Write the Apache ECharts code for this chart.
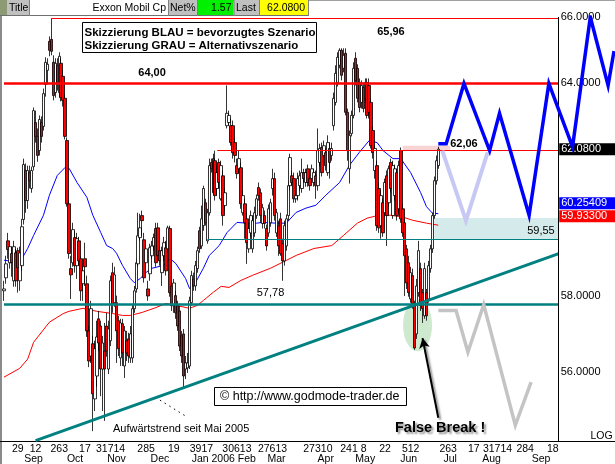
<!DOCTYPE html>
<html><head><meta charset="utf-8">
<script src="https://cdn.jsdelivr.net/npm/echarts/dist/echarts.min.js"></script>
<style>html,body{margin:0;padding:0;background:#fff}#c{width:615px;height:464px}</style>
</head><body><div id="c"></div>
<script>
// ---------- DATA ----------
const opens = [58.14,58.49,59.50,58.90,59.15,58.41,59.17,59.23,58.41,58.82,
60.09,61.47,60.62,61.41,60.96,61.58,62.85,62.45,62.04,62.85,
62.74,63.97,64.39,65.26,65.32,64.63,63.73,64.54,63.73,64.60,
64.21,63.56,62.33,60.53,58.74,58.90,59.59,58.82,59.50,59.01,
58.33,59.01,58.33,57.07,56.41,56.73,55.30,55.89,57.39,57.20,
56.07,56.54,57.20,56.07,56.81,58.63,57.82,57.82,57.34,56.36,
57.26,56.15,56.81,56.86,56.36,56.36,57.66,58.19,58.87,59.59,
60.20,59.53,58.90,58.19,58.60,59.09,59.36,59.84,59.86,59.23,
58.63,59.09,59.31,59.28,59.84,58.27,57.74,58.01,57.74,57.60,
56.94,56.99,56.07,56.10,56.15,57.82,58.46,58.27,58.74,59.78,
59.36,59.92,60.56,59.50,60.28,61.70,61.81,61.75,60.96,61.70,
60.67,61.32,60.48,62.76,62.85,62.76,62.76,62.27,61.61,61.52,
61.55,60.28,60.53,60.11,59.28,59.72,59.28,59.72,60.20,60.99,
60.84,59.98,60.20,59.84,59.72,60.00,60.96,61.24,59.72,59.92,
60.11,59.42,58.95,59.36,60.20,61.04,61.32,61.24,60.67,60.76,
61.04,60.96,61.41,61.13,61.52,61.24,61.24,61.13,61.32,61.04,
61.70,62.13,61.90,61.98,61.41,62.10,61.90,62.76,63.44,64.03,
64.54,64.99,64.45,64.90,63.15,61.52,62.53,63.06,64.75,64.45,
64.03,63.44,63.88,63.56,64.03,63.94,63.44,62.62,61.47,61.61,
60.96,59.92,60.56,60.28,61.32,60.56,61.70,60.20,60.76,61.41,
60.39,62.04,60.39,60.00,59.28,58.90,57.92,58.55,57.74,56.99,
58.09,58.74,58.09,57.47,58.09,57.92,58.74,59.28,60.20,61.18,
61.61];
const closes = [58.19,58.87,59.26,59.34,58.90,59.34,58.41,58.76,59.17,59.89,
61.64,60.62,61.47,61.18,61.47,63.20,62.45,61.90,62.94,62.45,
63.70,64.63,64.57,64.99,64.96,63.64,64.60,64.03,64.81,63.58,
63.50,62.45,60.53,59.15,58.57,59.81,58.82,59.56,58.95,58.14,
58.68,58.79,57.07,56.28,57.66,55.43,56.60,56.91,56.75,56.07,
56.75,56.07,56.54,57.12,58.41,57.79,58.57,57.07,56.60,57.28,
56.49,57.07,56.49,56.41,56.99,57.66,58.14,58.90,59.64,59.86,
60.06,58.49,59.28,58.00,59.31,59.36,59.59,58.90,59.09,58.95,
59.23,59.45,58.68,59.86,58.09,57.74,58.35,57.55,57.20,56.67,
56.41,55.89,56.23,56.23,57.87,58.55,58.27,58.82,59.23,59.28,
60.11,60.96,60.00,60.28,61.61,61.52,60.84,60.76,61.41,61.13,
61.61,60.20,60.84,63.12,63.06,62.27,61.98,61.90,61.38,61.81,
60.53,60.76,60.00,59.45,59.84,60.20,60.06,60.28,60.67,60.76,
60.20,60.42,59.98,59.36,60.39,60.56,61.24,60.20,60.28,59.36,
59.15,58.95,59.92,60.11,61.04,61.84,61.13,60.67,60.76,61.24,
61.32,61.41,61.24,61.41,61.13,61.04,61.52,61.41,61.04,62.04,
62.10,61.41,62.18,61.61,62.27,61.70,62.10,63.56,64.30,64.78,
64.99,64.24,64.84,63.15,62.04,62.48,63.06,64.45,64.09,63.56,
63.29,63.94,63.26,64.03,63.06,63.15,62.18,61.98,62.10,59.92,
59.86,60.76,59.72,61.13,60.20,61.52,60.96,61.61,61.52,60.20,
61.61,60.11,59.72,59.09,58.35,58.09,58.63,57.79,56.62,58.27,
59.23,57.74,57.66,58.74,57.47,58.82,59.28,60.20,61.18,61.75,
62.08];
const lows = [57.87,58.33,59.01,58.74,58.52,58.25,58.25,58.09,58.14,58.68,
59.95,60.28,60.39,60.96,60.84,61.47,62.27,61.72,61.90,62.27,
62.62,63.61,63.97,64.81,64.84,63.50,63.58,63.79,63.61,63.47,
63.32,62.36,60.45,59.01,57.92,58.79,58.63,58.46,58.82,57.87,
57.87,58.27,56.91,56.12,56.23,54.48,54.99,55.61,56.54,55.37,
54.99,54.74,56.39,55.94,56.67,57.55,57.71,56.23,56.41,56.15,
56.15,55.84,56.28,56.23,56.23,56.23,57.55,58.09,58.79,59.50,
59.64,58.36,58.68,57.87,58.41,59.01,59.23,58.79,59.01,58.82,
58.27,58.95,58.55,59.17,57.98,57.60,57.55,57.39,57.07,56.54,
56.23,55.58,55.81,55.97,56.07,57.74,58.14,58.14,58.63,59.17,
59.28,59.78,59.92,59.42,60.20,61.41,60.76,60.62,60.76,60.96,
60.62,59.92,60.34,62.68,62.76,62.18,61.81,61.70,61.24,61.41,
60.39,60.20,59.56,58.87,59.17,59.61,59.17,59.61,60.11,60.62,
60.00,59.84,59.84,59.23,59.61,59.89,60.76,60.06,59.61,59.09,
59.09,58.41,58.82,59.23,60.06,60.90,61.04,60.56,60.56,60.62,
60.90,60.84,61.13,61.01,61.01,60.90,61.13,61.01,60.67,60.90,
61.58,61.30,61.81,61.47,61.32,61.24,61.75,62.62,63.35,63.91,
64.45,64.09,64.33,63.06,61.75,61.10,62.45,62.97,63.94,63.44,
63.15,63.26,63.15,63.44,62.97,62.97,62.10,61.81,61.24,59.78,
59.72,59.56,59.61,60.17,59.36,60.45,60.84,60.11,60.62,60.06,
60.28,60.00,59.61,58.00,58.19,57.98,57.82,57.66,56.57,56.86,
57.98,57.60,57.28,57.39,57.34,57.82,58.63,59.17,60.11,61.07,
61.52];
const highs = [58.41,59.09,59.72,59.50,59.34,59.50,59.28,59.31,59.34,60.11,
61.81,61.67,61.61,61.61,61.58,63.29,63.20,62.68,63.06,63.03,
63.85,64.78,64.75,65.41,65.96,64.84,64.75,64.75,64.93,64.75,
64.39,63.67,62.42,60.62,59.09,60.00,59.78,59.72,59.61,59.09,
58.82,59.45,58.55,57.20,57.87,56.94,56.81,57.34,57.60,57.34,
56.94,57.28,57.55,57.34,58.55,58.90,58.79,58.01,57.47,57.39,
57.39,57.20,57.07,57.02,57.20,57.79,58.27,59.01,60.28,60.25,
60.34,59.72,59.39,58.41,59.42,59.50,59.70,60.00,60.00,59.36,
59.34,59.61,59.50,59.92,59.92,58.41,58.46,58.14,57.87,57.74,
57.07,57.12,56.41,56.49,57.98,58.68,58.63,58.95,59.34,59.89,
60.48,61.04,60.67,60.39,61.81,61.81,61.95,62.04,61.61,61.81,
61.75,61.47,60.96,63.94,63.20,62.97,62.91,62.39,61.81,62.04,
61.70,60.90,60.67,60.28,60.00,60.34,60.20,60.45,60.79,61.13,
60.96,60.53,60.34,59.95,60.51,60.67,61.52,61.41,60.39,60.06,
60.28,59.56,60.06,60.23,61.18,61.95,61.47,61.41,60.90,61.41,
61.47,61.81,61.52,61.52,61.64,61.35,61.64,61.52,61.47,62.68,
62.24,62.27,62.33,62.10,62.48,62.27,62.27,63.73,64.54,64.93,
65.05,65.05,65.05,65.05,63.26,62.62,63.20,64.63,64.93,64.57,
64.15,64.09,64.03,64.15,64.15,64.15,63.56,62.74,62.21,61.75,
61.13,60.90,60.67,61.24,61.47,61.61,61.81,61.75,61.64,61.52,
61.75,62.13,60.51,60.11,59.39,59.09,58.79,58.74,57.87,58.46,
59.50,58.90,58.19,58.90,58.19,58.95,59.39,60.28,61.30,61.90,
62.15];

// moving averages, read as [bar index, value]
const maBlue = [[0,58.97],[8,58.91],[12,59.29],[15,59.65],[20,60.21],[23,60.77],[27,61.33],[31,61.56],[33,61.53],[37,61.13],[42,60.71],[45,60.21],[49,59.73],[52,59.37],[55,59.29],[57,59.16],[60,58.83],[64,58.47],[66,58.36],[69,58.47],[72,58.64],[75,58.75],[81,58.83],[84,59.02],[87,58.88],[92,58.47],[94,58.20],[97,58.36],[101,58.75],[104,59.10],[109,59.37],[113,59.73],[118,60.01],[123,59.99],[128,59.99],[131,60.01],[138,59.99],[143,59.99],[148,60.29],[153,60.41],[158,60.49],[163,60.77],[170,61.13],[175,61.62],[180,61.99],[185,62.33],[189,62.27],[192,62.04],[197,61.81],[201,61.81],[206,61.41],[211,60.85],[214,60.45],[217,60.27],[220,60.25409]];
const maRed = [[0,55.86],[8,56.09],[12,56.33],[15,56.77],[23,57.30],[30,57.53],[33,57.59],[40,57.67],[47,57.59],[55,57.53],[60,57.48],[64,57.48],[70,57.56],[77,57.69],[82,57.80],[87,57.75],[94,57.67],[98,57.75],[101,57.88],[106,58.10],[110,58.26],[114,58.23],[120,58.42],[126,58.56],[135,58.75],[141,58.91],[148,59.10],[157,59.29],[166,59.37],[172,59.65],[179,59.99],[184,60.13],[190,60.21],[196,60.21],[202,60.16],[207,60.07],[214,59.99],[220,59.933]];

// sketched scenarios [bar index, price]
const scenBlue = [[220,62.24],[224,62.24],[233,64.0],[246,62.04],[251,63.12],[266,60.21],[276,64.0],[288,62.15],[297,66.0],[306,63.94],[309,64.97]];
const scenLight = [[222,62.04],[234,60.06],[245,61.99]];
const scenGray = [[220,57.61],[229,57.61],[235,56.51],[243,57.77],[259,54.63],[267,55.73]];

// levels
const levelHigh = 65.96, level64 = 64.00, level6206 = 62.06, level5955 = 59.55, level5778 = 57.78;
const trendFrom = [16, 54.24], trendTo = [281, 59.15];

// axis tick labels
const dayTickIdx = [7,16,28,41,54,72,86,100,118,136,159,177,193,206,225,238,250,264,278];
const dayTickText = ['29','12','263','17','31714','285','19','3917','30613','27613','27310','241 8','22','512','263','17','31714','284','18'];
const monthTickIdx = [15,36,57,79,106,123,138,163,183,205,226,247,272];
const monthTickText = ['Sep','Oct','Nov','Dec','Jan 2006','Feb','Mar','Apr','May','Jun','Jul','Aug','Sep'];
const priceTicks = [66, 64, 58, 56];
const lastPrice = 62.08, maBlueLast = 60.25409, maRedLast = 59.933;

// ---------- CHART ----------
const FONT = '"Liberation Sans", Arial, sans-serif';
const NCAT = 310, AXISCAT = 281;
const cats = Array.from({length: NCAT}, (_, i) => String(i));
const candle = opens.map((o, i) => [o, closes[i], lows[i], highs[i]]);
const dayMap = {}; dayTickIdx.forEach((k, j) => dayMap[k] = dayTickText[j]);
const monMap = {}; monthTickIdx.forEach((k, j) => monMap[k] = monthTickText[j]);

function txt(coord, text, lab) {
  return {coord: coord, value: text, symbol: 'rect', symbolSize: 1,
    itemStyle: {color: 'rgba(0,0,0,0)'},
    label: Object.assign({show: true, formatter: text, position: 'inside', color: '#000',
      fontSize: 11, fontFamily: FONT}, lab || {})};
}
function seg(a, b, style, extra) {
  return [Object.assign({coord: a, lineStyle: style}, extra && extra[0] || {}), Object.assign({coord: b}, extra && extra[1] || {})];
}
const RED = '#ff0000', TEAL = '#008080';

const chart = echarts.init(document.getElementById('c'), null, {renderer: 'canvas'});
const option = {
  animation: false,
  backgroundColor: '#ffffff',
  textStyle: {fontFamily: FONT},
  grid: {left: 3, right: 0, top: 17, bottom: 22.5, containLabel: false, outerBoundsMode: 'none'},
  xAxis: [
    {type: 'category', data: cats, boundaryGap: true, show: false},
    {type: 'category', data: cats, boundaryGap: true, position: 'bottom',
      axisLine: {show: true, onZero: false, lineStyle: {color: '#000', width: 1}},
      axisTick: {show: false}, splitLine: {show: false},
      axisLabel: {interval: 0, margin: 2, fontSize: 10.5, color: '#000', fontFamily: FONT,
        formatter: (v, i) => dayMap[i] || ''}},
    {type: 'category', data: cats, boundaryGap: true, position: 'bottom',
      axisLine: {show: false, onZero: false}, axisTick: {show: false}, splitLine: {show: false},
      axisLabel: {interval: 0, margin: 12, fontSize: 10.5, color: '#000', fontFamily: FONT,
        formatter: (v, i) => monMap[i] || ''}}
  ],
  yAxis: [{type: 'log', logBase: 10, min: 54.22, max: 66.0, show: false, splitLine: {show: false}}],
  series: [
    { // background shapes
      type: 'line', data: [], z: 0, silent: true,
      markArea: {silent: true, z: 0, data: [
        [{coord: [202, 62.18], itemStyle: {color: '#f9d4d4'}}, {coord: [226, 62.04]}],
        [{coord: [218, 60.13], itemStyle: {color: '#d5ebeb'}}, {coord: [AXISCAT, level5955]}]
      ]},
      markPoint: {silent: true, z: 0, data: [
        {coord: [210, 57.22], symbol: 'circle', symbolSize: [29, 52], symbolOffset: [-1, 0],
          itemStyle: {color: '#cfe9cf'}, label: {show: false}}
      ]}
    },
    {
      type: 'line', data: maBlue, z: 1, showSymbol: false, silent: true,
      lineStyle: {color: '#0000ff', width: 1}
    },
    {
      type: 'line', data: maRed, z: 1, showSymbol: false, silent: true,
      lineStyle: {color: '#ff0000', width: 1}
    },
    {
      type: 'candlestick', data: candle, z: 2, barWidth: 3, silent: true,
      itemStyle: {color: '#ffffff', color0: '#ff0000', borderColor: '#000000', borderColor0: '#000000', borderWidth: 0.8}
    },
    { // levels, trend, labels
      type: 'line', data: [], z: 4, silent: true,
      markLine: {silent: true, symbol: ['none', 'none'], label: {show: false},
        data: [
          seg([24, levelHigh], [AXISCAT, levelHigh], {color: RED, width: 1, type: 'solid'}),
          seg([0, level64], [AXISCAT, level64], {color: RED, width: 2.5, type: 'solid'}),
          seg([108, level6206], [AXISCAT, level6206], {color: RED, width: 1, type: 'solid'}),
          seg([103, level5955], [AXISCAT, level5955], {color: TEAL, width: 1.2, type: 'solid'}),
          seg([0, level5778], [AXISCAT, level5778], {color: TEAL, width: 2.5, type: 'solid'}),
          seg(trendFrom, trendTo, {color: TEAL, width: 3, type: 'solid'}),
          {xAxis: AXISCAT, lineStyle: {color: '#000', width: 1, type: 'solid'}},
          seg([79, 55.27], [93, 54.83], {color: '#000', width: 1, type: [1.5, 4]}),
          seg([220, 54.82], [212, 56.88], {color: '#000', width: 2, type: 'solid',
              shadowColor: 'rgba(0,0,0,0.45)', shadowBlur: 2, shadowOffsetX: 2, shadowOffsetY: 2},
            [{symbol: 'none'}, {symbol: 'arrow', symbolSize: [8, 10]}])
        ]},
      markPoint: {silent: true, data: [
        txt([75, 64.31], '64,00', {fontWeight: 'bold'}),
        txt([196, 65.54], '65,96', {fontWeight: 'bold'}),
        txt([233, 62.24], '62,06', {fontWeight: 'bold'}),
        txt([272, 59.77], '59,55', {}),
        txt([135, 58.09], '57,78', {}),
      ].concat(priceTicks.map(p => txt([AXISCAT, p], p.toFixed(4), {position: 'right', distance: 1.5}))).concat([
        txt([AXISCAT, lastPrice], lastPrice.toFixed(4), {position: 'right', distance: 0, color: '#fff',
          backgroundColor: '#000', padding: [1, 2, 0, 2], width: 52}),
        txt([AXISCAT, maBlueLast], maBlueLast.toFixed(5), {position: 'right', distance: 0, color: '#fff',
          backgroundColor: '#0000ff', padding: [1, 2, 0, 2], width: 52, offset: [0, -10.4]}),
        txt([AXISCAT, maRedLast], maRedLast.toFixed(5), {position: 'right', distance: 0, color: '#fff',
          backgroundColor: '#ff0000', padding: [1, 2, 0, 2], width: 52, offset: [0, -9]})
      ])}
    },
    {
      type: 'line', data: scenLight, z: 5, showSymbol: false, silent: true,
      lineStyle: {color: '#c8c8f4', width: 4, join: 'miter'}
    },
    {
      type: 'line', data: scenGray, z: 5, showSymbol: false, silent: true,
      lineStyle: {color: '#c4c4c4', width: 3.5, join: 'miter'}
    },
    {
      type: 'line', data: scenBlue, z: 6, showSymbol: false, silent: true,
      lineStyle: {color: '#0000ff', width: 3.5, join: 'miter'}
    }
  ],
  graphic: [
    {type: 'rect', z: 100, shape: {x: 0, y: 0, width: 615, height: 1}, style: {fill: '#a0a0a0'}},
    {type: 'rect', z: 100, shape: {x: 0, y: 16, width: 2, height: 448}, style: {fill: '#8a8a8a'}},
    {type: 'rect', z: 100, shape: {x: 0, y: 441, width: 3, height: 1}, style: {fill: '#000'}},
    {type: 'rect', z: 100, shape: {x: 0, y: 0, width: 7, height: 16}, style: {fill: '#8c9b73'}},
    {type: 'rect', z: 100, shape: {x: 7, y: 0, width: 22, height: 16}, style: {fill: '#c0c0c0'}},
    {type: 'rect', z: 100, shape: {x: 29, y: 0, width: 139, height: 16}, style: {fill: '#ffffff'}},
    {type: 'rect', z: 100, shape: {x: 168, y: 0, width: 29, height: 16}, style: {fill: '#c0c0c0'}},
    {type: 'rect', z: 100, shape: {x: 197, y: 0, width: 36.5, height: 16}, style: {fill: '#00f000'}},
    {type: 'rect', z: 100, shape: {x: 234, y: 0, width: 25, height: 16}, style: {fill: '#c0c0c0'}},
    {type: 'rect', z: 100, shape: {x: 259, y: 0, width: 49, height: 16}, style: {fill: '#ffff00'}},
    {type: 'rect', z: 101, shape: {x: 0, y: 15, width: 308, height: 1}, style: {fill: '#707070'}},
    {type: 'rect', z: 101, shape: {x: 29, y: 0, width: 1, height: 16}, style: {fill: '#808080'}},
    {type: 'rect', z: 101, shape: {x: 168, y: 0, width: 1, height: 16}, style: {fill: '#808080'}},
    {type: 'rect', z: 101, shape: {x: 197, y: 0, width: 1, height: 16}, style: {fill: '#808080'}},
    {type: 'rect', z: 101, shape: {x: 233.5, y: 0, width: 1, height: 16}, style: {fill: '#808080'}},
    {type: 'rect', z: 101, shape: {x: 259, y: 0, width: 1, height: 16}, style: {fill: '#808080'}},
    {type: 'rect', z: 101, shape: {x: 308, y: 0, width: 1, height: 16}, style: {fill: '#808080'}},
    {type: 'text', z: 102, style: {text: 'Title', x: 9, y: 8.5, fill: '#000', font: '10.5px ' + FONT, textAlign: 'left', textVerticalAlign: 'middle', align: 'left', verticalAlign: 'middle'}},
    {type: 'text', z: 102, style: {text: 'Exxon Mobil Cp', x: 166, y: 8.5, fill: '#000', font: '10.5px ' + FONT, textAlign: 'right', textVerticalAlign: 'middle', align: 'right', verticalAlign: 'middle'}},
    {type: 'text', z: 102, style: {text: 'Net%', x: 170, y: 8.5, fill: '#000', font: '10.5px ' + FONT, textAlign: 'left', textVerticalAlign: 'middle', align: 'left', verticalAlign: 'middle'}},
    {type: 'text', z: 102, style: {text: '1.57', x: 231.5, y: 8.5, fill: '#000', font: '10.5px ' + FONT, textAlign: 'right', textVerticalAlign: 'middle', align: 'right', verticalAlign: 'middle'}},
    {type: 'text', z: 102, style: {text: 'Last', x: 236, y: 8.5, fill: '#000', font: '10.5px ' + FONT, textAlign: 'left', textVerticalAlign: 'middle', align: 'left', verticalAlign: 'middle'}},
    {type: 'text', z: 102, style: {text: '62.0800', x: 305, y: 8.5, fill: '#000', font: '10.5px ' + FONT, textAlign: 'right', textVerticalAlign: 'middle', align: 'right', verticalAlign: 'middle'}},
    {type: 'rect', z: 100, shape: {x: 82.5, y: 22.5, width: 234, height: 30}, style: {fill: '#fff', stroke: '#000', lineWidth: 1}},
    {type: 'text', z: 102, style: {text: 'Skizzierung BLAU = bevorzugtes Szenario', x: 84.5, y: 32.5, fill: '#000', font: 'bold 11.5px ' + FONT, textAlign: 'left', textVerticalAlign: 'middle', align: 'left', verticalAlign: 'middle'}},
    {type: 'text', z: 102, style: {text: 'Skizzierung GRAU = Alternativszenario', x: 84.5, y: 46, fill: '#000', font: 'bold 11.5px ' + FONT, textAlign: 'left', textVerticalAlign: 'middle', align: 'left', verticalAlign: 'middle'}},
    {type: 'rect', z: 100, shape: {x: 214.5, y: 387.5, width: 192, height: 18}, style: {fill: '#fff', stroke: '#000', lineWidth: 1}},
    {type: 'text', z: 102, style: {text: '\u00a9 http://www.godmode-trader.de', x: 220, y: 397, fill: '#000', font: '12.5px ' + FONT, textAlign: 'left', textVerticalAlign: 'middle', align: 'left', verticalAlign: 'middle'}},
    {type: 'text', z: 102, style: {text: 'Aufwärtstrend seit Mai 2005', x: 113, y: 429, fill: '#000', font: '11px ' + FONT, textAlign: 'left', textVerticalAlign: 'middle', align: 'left', verticalAlign: 'middle'}},
    {type: 'text', z: 102, style: {text: 'False Break !', x: 395, y: 428, fill: '#000', font: 'bold 14.5px ' + FONT, textAlign: 'left', textVerticalAlign: 'middle', align: 'left', verticalAlign: 'middle',
      textShadowColor: 'rgba(0,0,0,0.45)', textShadowBlur: 2, textShadowOffsetX: 2, textShadowOffsetY: 2}},
    {type: 'text', z: 102, style: {text: 'LOG', x: 590.5, y: 436.5, fill: '#000', font: '10.5px ' + FONT, textAlign: 'left', textVerticalAlign: 'middle', align: 'left', verticalAlign: 'middle'}}
  ]
};
chart.setOption(option);
</script></body></html>
